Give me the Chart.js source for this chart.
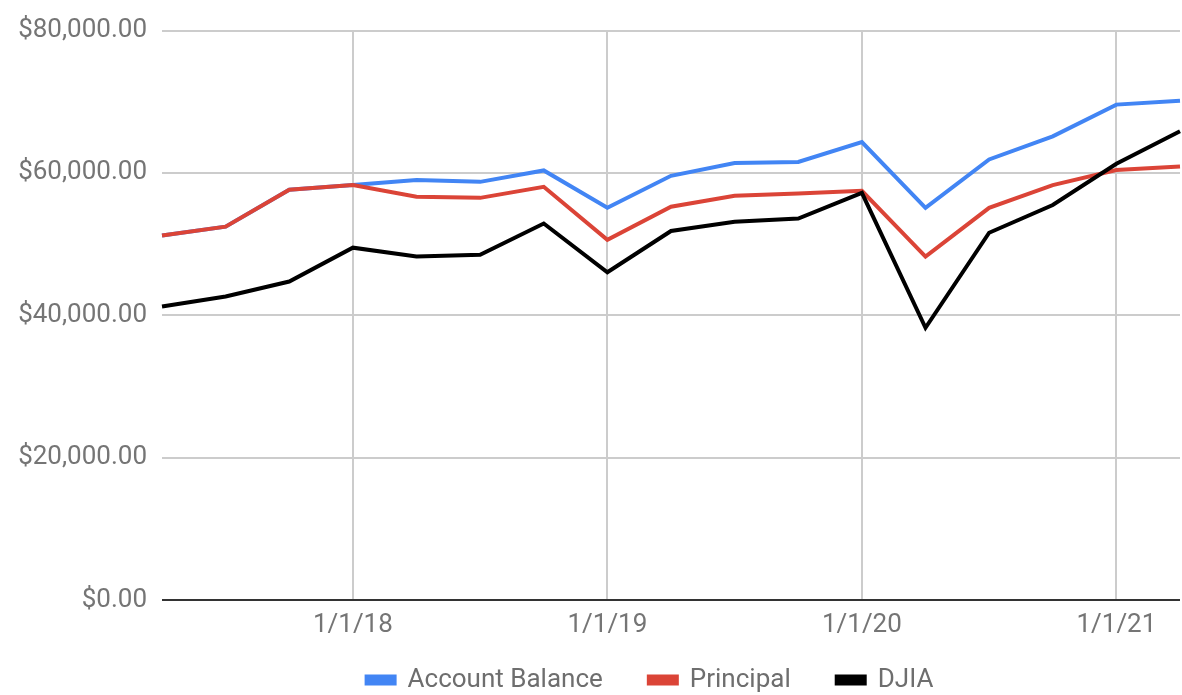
<!DOCTYPE html>
<html>
<head>
<meta charset="utf-8">
<title>Account Balance vs DJIA</title>
<script src="https://cdn.jsdelivr.net/npm/chart.js@4/dist/chart.umd.min.js"></script>
<style>
    body { margin: 0; background: #fff; }
    .chart { position: relative; width: 1182px; height: 695px; }
</style>
</head>
<body>
<div class="chart"><canvas id="chart"></canvas></div>
<script>
// quarterly dates
const DATES = ['4/1/17', '7/1/17', '10/1/17', '1/1/18', '4/1/18', '7/1/18', '10/1/18', '1/1/19',
    '4/1/19', '7/1/19', '10/1/19', '1/1/20', '4/1/20', '7/1/20', '10/1/20', '1/1/21', '4/1/21'];
const ACCOUNT_BALANCE = [51200, 52450, 57650, 58300, 59000, 58750, 60350, 55100,
    59600, 61400, 61550, 64350, 55100, 61900, 65150, 69600, 70150];
const PRINCIPAL = [51200, 52450, 57650, 58300, 56650, 56500, 58050, 50600,
    55250, 56800, 57100, 57500, 48250, 55100, 58300, 60400, 60900];
const DJIA = [41250, 42650, 44750, 49500, 48250, 48500, 52900, 46050,
    51850, 53150, 53600, 57200, 38250, 51600, 55500, 61300, 65850];
const Y_TICKS = [0, 20000, 40000, 60000, 80000];
// only january gets a label and a grid line
const YEAR_TICKS = ['1/1/18', '1/1/19', '1/1/20', '1/1/21'];

const FONT = { family: 'Roboto', size: 26 };
const GREY = '#757575';

function money(v) {
    return '$' + v.toLocaleString('en-US', { minimumFractionDigits: 2, maximumFractionDigits: 2 });
}

function line(label, data, color, order) {
    return {
        label: label,
        data: data,
        borderColor: color,
        backgroundColor: color,
        borderWidth: 4,
        pointRadius: 0,
        tension: 0,
        order: order
    };
}

// the legend in the original sits a bit right of the canvas centre,
// and its big item padding would push it too low otherwise
const legendShift = {
    id: 'legendShift',
    afterLayout(chart) {
        chart.legend.left += 60;
        chart.legend.right += 60;
        chart.legend.top -= 21;
    }
};

var ctx = document.getElementById('chart').getContext('2d');
var myChart = new Chart(ctx, {
    type: 'line',
    data: {
        labels: DATES,
        datasets: [
            line('Account Balance', ACCOUNT_BALANCE, '#4285f4', 3),
            line('Principal', PRINCIPAL, '#db4437', 2),
            line('DJIA', DJIA, '#000000', 1)
        ]
    },
    plugins: [legendShift],
    options: {
        responsive: true,
        maintainAspectRatio: false,
        animation: false,
        layout: { padding: { top: 28, right: 2, left: 0, bottom: 0 } },
        plugins: {
            tooltip: { enabled: false },
            legend: {
                position: 'bottom',
                maxHeight: 53,
                labels: {
                    font: FONT,
                    color: '#6e6e6e',
                    boxWidth: 28,
                    boxHeight: 7,
                    padding: 46,
                    sort: (a, b) => a.datasetIndex - b.datasetIndex
                }
            }
        },
        scales: {
            x: {
                offset: false,
                afterBuildTicks: scale => {
                    scale.ticks = scale.ticks.filter(t => YEAR_TICKS.includes(DATES[t.value]));
                },
                afterFit: scale => { scale.height = 42; },
                ticks: {
                    autoSkip: false,
                    maxRotation: 0,
                    font: FONT,
                    color: GREY,
                    padding: 10
                },
                grid: { color: '#cccccc', lineWidth: 2, drawTicks: false },
                border: { display: false }
            },
            y: {
                min: 0,
                max: 80000,
                afterBuildTicks: scale => {
                    scale.ticks = Y_TICKS.map(v => ({ value: v }));
                },
                afterFit: scale => { scale.width = 162; },
                ticks: {
                    font: FONT,
                    color: GREY,
                    padding: 15,
                    callback: v => money(v)
                },
                grid: {
                    // zero line is the dark baseline
                    color: c => c.tick && c.tick.value === 0 ? '#333333' : '#cccccc',
                    lineWidth: 2,
                    drawTicks: false
                },
                border: { display: false }
            }
        }
    }
});
</script>
</body>
</html>
